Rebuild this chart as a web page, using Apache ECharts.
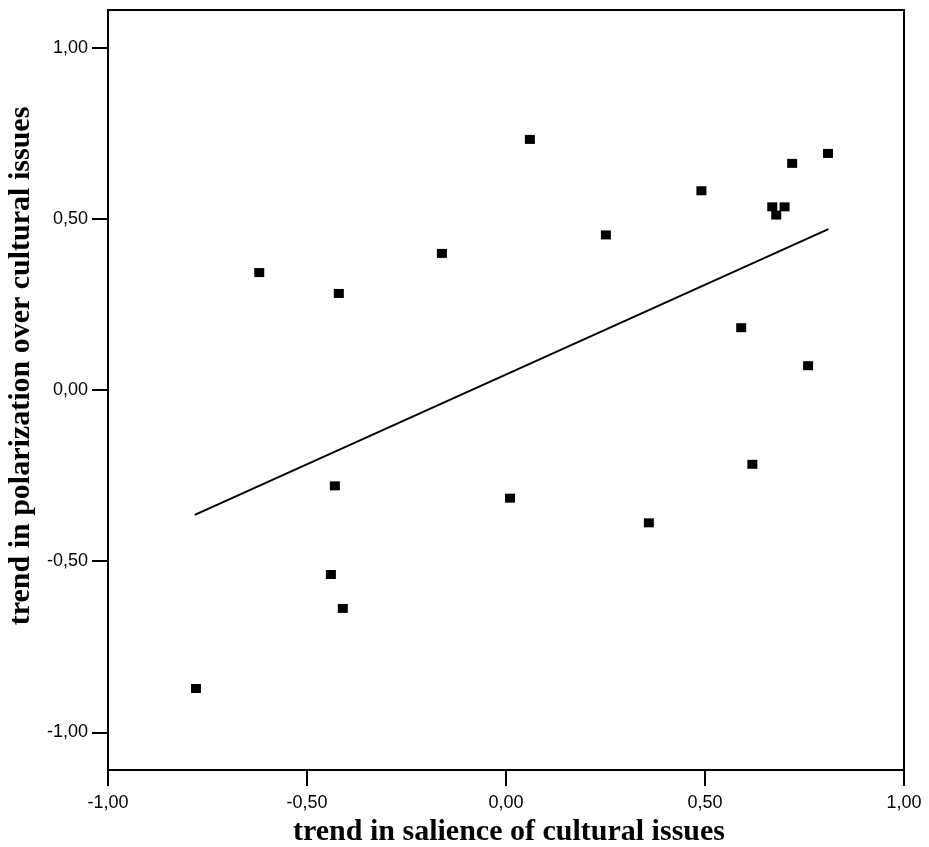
<!DOCTYPE html>
<html>
<head>
<meta charset="utf-8">
<script src="https://cdn.jsdelivr.net/npm/echarts@6/dist/echarts.min.js"></script>
<style>
  html, body { margin: 0; padding: 0; background: #ffffff; }
  #chart { width: 929px; height: 847px; }
</style>
</head>
<body>
<div id="chart"></div>
<script>
// ---- data ----
var salienceTrend = [-0.779, -0.620, -0.420, -0.430, -0.440, -0.410, -0.161, 0.010, 0.060, 0.251,
                     0.359, 0.491, 0.591, 0.619, 0.669, 0.679, 0.700, 0.719, 0.759, 0.809];
var polarizationTrend = [-0.872, 0.343, 0.282, -0.280, -0.539, -0.638, 0.399, -0.316, 0.732, 0.453,
                         -0.388, 0.582, 0.182, -0.217, 0.535, 0.511, 0.535, 0.662, 0.071, 0.691];
var fitLineX = [-0.782, 0.810];
var fitLineY = [-0.365, 0.470];
var xTickValues = [-1, -0.5, 0, 0.5, 1];
var yTickValues = [-1, -0.5, 0, 0.5, 1];
var xTitle = 'trend in salience of cultural issues';
var yTitle = 'trend in polarization over cultural issues';

function fmt(v) { return v.toFixed(2).replace('.', ','); }

var points = salienceTrend.map(function (x, i) { return [x, polarizationTrend[i]]; });
var fitLine = fitLineX.map(function (x, i) { return [x, fitLineY[i]]; });

var chart = echarts.init(document.getElementById('chart'), null, { renderer: 'canvas' });
chart.setOption({
  animation: false,
  backgroundColor: '#ffffff',
  grid: {
    left: 108, right: 25, top: 10, bottom: 77,
    containLabel: false, outerBoundsMode: 'none',
    show: true, borderColor: '#000000', borderWidth: 2, backgroundColor: 'transparent'
  },
  xAxis: {
    type: 'value', min: -1, max: 1, interval: 0.5,
    name: xTitle, nameLocation: 'middle', nameGap: 47,
    nameTextStyle: { fontFamily: 'Liberation Serif', fontWeight: 'bold', fontSize: 30, color: '#000',
                     padding: [0, 0, 0, 6] },
    axisLine: { show: true, onZero: false, lineStyle: { color: '#000', width: 2 } },
    axisTick: { show: true, inside: false, length: 16, lineStyle: { color: '#000', width: 2 }, customValues: xTickValues },
    axisLabel: { margin: 24, fontFamily: 'Liberation Sans', fontSize: 18, color: '#000',
                 customValues: xTickValues, formatter: fmt },
    splitLine: { show: false }
  },
  yAxis: {
    type: 'value', min: -1.11, max: 1.11,
    name: yTitle, nameLocation: 'middle', nameGap: 67,
    nameTextStyle: { fontFamily: 'Liberation Serif', fontWeight: 'bold', fontSize: 30, color: '#000',
                     padding: [0, 0, 0, 48] },
    axisLine: { show: true, onZero: false, lineStyle: { color: '#000', width: 2 } },
    axisTick: { show: true, inside: false, length: 16, lineStyle: { color: '#000', width: 2 }, customValues: yTickValues },
    axisLabel: { margin: 20, fontFamily: 'Liberation Sans', fontSize: 18, color: '#000',
                 customValues: yTickValues, formatter: fmt },
    splitLine: { show: false }
  },
  series: [
    {
      type: 'line', data: fitLine, showSymbol: false, symbol: 'none',
      lineStyle: { color: '#000', width: 2 }, silent: true, z: 2
    },
    {
      type: 'scatter', data: points, symbol: 'rect', symbolSize: [10, 9],
      itemStyle: { color: '#000', opacity: 1 }, z: 3
    }
  ]
});
</script>
</body>
</html>
